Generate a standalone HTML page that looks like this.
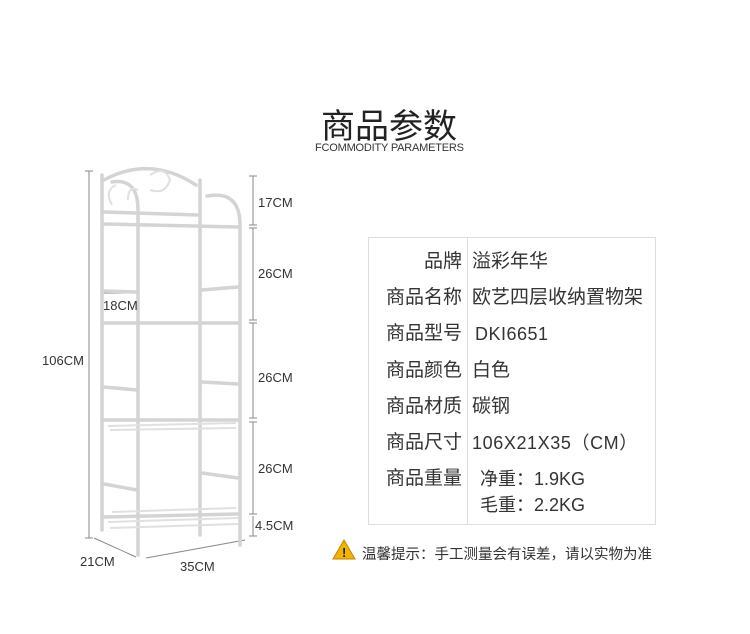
<!DOCTYPE html>
<html><head><meta charset="utf-8"><style>
body{margin:0;width:750px;height:634px;background:#fff;position:relative;overflow:hidden;font-family:"Liberation Sans","Noto Sans CJK SC",sans-serif;color:#333}
.a{position:absolute;white-space:nowrap}
.t{font-size:19px;color:#333;line-height:24px}
.d{font-size:13px;color:#333}
</style></head><body>
<div class="a" style="left:321px;top:99px;font-size:34px;color:#222">商品参数</div>
<div class="a" style="left:315px;top:142px;font-size:11px;color:#333;letter-spacing:-0.2px">FCOMMODITY PARAMETERS</div>

<svg class="a" style="left:0;top:0" width="750" height="634">
<g stroke="#888" stroke-width="1" fill="none">
<line x1="89" y1="171" x2="89" y2="538"/><line x1="85" y1="171" x2="93" y2="171"/><line x1="85" y1="538" x2="93" y2="538"/>
<line x1="253" y1="176" x2="253" y2="225"/><line x1="249" y1="176" x2="257" y2="176"/><line x1="249" y1="225" x2="257" y2="225"/>
<line x1="253" y1="228" x2="253" y2="320"/><line x1="249" y1="228" x2="257" y2="228"/><line x1="249" y1="320" x2="257" y2="320"/>
<line x1="253" y1="323" x2="253" y2="418"/><line x1="249" y1="323" x2="257" y2="323"/><line x1="249" y1="418" x2="257" y2="418"/>
<line x1="253" y1="422" x2="253" y2="514"/><line x1="249" y1="422" x2="257" y2="422"/><line x1="249" y1="514" x2="257" y2="514"/>
<line x1="253" y1="516" x2="253" y2="536"/><line x1="249" y1="536" x2="257" y2="536"/>
<line x1="94" y1="538" x2="136" y2="557"/>
<line x1="146" y1="558" x2="245" y2="540"/>
<line x1="104" y1="293" x2="137" y2="293"/>
</g>
<g stroke="#d4d4d4" stroke-width="3.5" fill="none" stroke-linecap="round">
<line x1="102" y1="175" x2="102" y2="530"/>
<line x1="200" y1="180" x2="200" y2="535"/>
<path d="M138 555 L138 210 Q138 178 112 182"/>
<path d="M240 545 L240 225 Q240 190 207 196"/>
<path d="M104 180 Q150 155 196 185"/>
<line x1="104" y1="212" x2="198" y2="215"/>
<line x1="104" y1="224" x2="238" y2="227"/>
<line x1="104" y1="291" x2="137" y2="292"/>
<line x1="202" y1="290" x2="238" y2="287"/>
<line x1="104" y1="323" x2="238" y2="323"/>
<line x1="104" y1="387" x2="137" y2="390"/>
<line x1="202" y1="382" x2="238" y2="384"/>
<line x1="104" y1="420" x2="238" y2="420"/>
<line x1="104" y1="484" x2="137" y2="490"/>
<line x1="202" y1="473" x2="238" y2="478"/>
<line x1="104" y1="517" x2="238" y2="514"/>
</g>
<g stroke="#e0e0e0" stroke-width="2" fill="none">
<path d="M112 205 q-8 -15 4 -20 M128 200 q0 -15 10 -10 M150 175 q15 -10 20 5 q-5 15 -20 10"/>
<path d="M108 426 L236 423 M110 430 L236 428 M108 522 L238 518 M110 528 L238 524 M112 512 L236 508"/>
</g>
<polygon points="344,540 333,559 355,559" fill="#f3b400" stroke="#c08400" stroke-width="1"/>
<text x="342" y="557" font-size="13" font-weight="bold" fill="#222" font-family="Liberation Sans">!</text>
</svg>

<div class="a d" style="left:258px;top:195px">17CM</div>
<div class="a d" style="left:258px;top:266px">26CM</div>
<div class="a d" style="left:258px;top:370px">26CM</div>
<div class="a d" style="left:258px;top:461px">26CM</div>
<div class="a d" style="left:255px;top:518px">4.5CM</div>
<div class="a d" style="left:103px;top:298px">18CM</div>
<div class="a d" style="left:42px;top:353px">106CM</div>
<div class="a d" style="left:80px;top:554px">21CM</div>
<div class="a d" style="left:180px;top:559px">35CM</div>

<div class="a" style="left:368px;top:237px;width:288px;height:288px;border:1px solid #ddd;box-sizing:border-box"></div>
<div class="a" style="left:467px;top:237px;width:1px;height:288px;background:#ddd"></div>
<div class="a t" style="left:362px;top:250px;width:100px;text-align:right">品牌</div>
<div class="a t" style="left:362px;top:286px;width:100px;text-align:right">商品名称</div>
<div class="a t" style="left:362px;top:322px;width:100px;text-align:right">商品型号</div>
<div class="a t" style="left:362px;top:359px;width:100px;text-align:right">商品颜色</div>
<div class="a t" style="left:362px;top:395px;width:100px;text-align:right">商品材质</div>
<div class="a t" style="left:362px;top:431px;width:100px;text-align:right">商品尺寸</div>
<div class="a t" style="left:362px;top:467px;width:100px;text-align:right">商品重量</div>
<div class="a t" style="left:472px;top:250px">溢彩年华</div>
<div class="a t" style="left:472px;top:286px">欧艺四层收纳置物架</div>
<div class="a t" style="left:475px;top:322px;font-size:18px;letter-spacing:0.5px">DKI6651</div>
<div class="a t" style="left:472px;top:359px">白色</div>
<div class="a t" style="left:472px;top:395px">碳钢</div>
<div class="a t" style="left:472px;top:431px;font-size:18px;letter-spacing:0.6px">106X21X35（CM）</div>
<div class="a t" style="left:480px;top:467px;font-size:18px">净重：1.9KG</div>
<div class="a t" style="left:480px;top:493px;font-size:18px">毛重：2.2KG</div>
<div class="a" style="left:362px;top:543px;font-size:14.5px;color:#333">温馨提示：手工测量会有误差，请以实物为准</div>
</body></html>
